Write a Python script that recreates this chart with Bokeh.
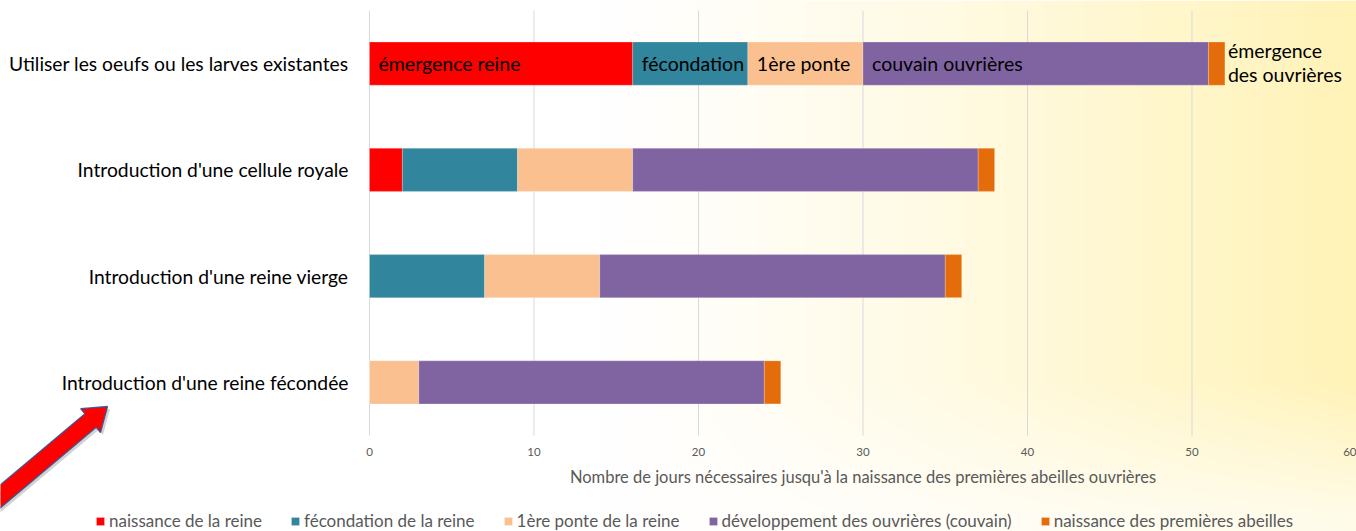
import numpy as np
from bokeh.plotting import figure
from bokeh.models import (Range1d, Legend, LegendItem, PolyAnnotation,
                          ColumnDataSource, FixedTicker)
from bokeh.core.properties import value
from bokeh.embed import file_html
from bokeh.resources import INLINE

# ---------------- data ----------------
categories = [
    "Utiliser les oeufs ou les larves existantes",
    "Introduction d'une cellule royale",
    "Introduction d'une reine vierge",
    "Introduction d'une reine fécondée",
]
series_names = [
    "naissance de la reine",
    "fécondation de la reine",
    "1ère ponte de la reine",
    "développement des ouvrières (couvain)",
    "naissance des premières abeilles",
]
naissance_reine = [16, 2, 0, 0]
fecondation_reine = [7, 7, 7, 0]
ponte_reine = [7, 7, 7, 3]
couvain_ouvrieres = [21, 21, 21, 21]
naissance_abeilles = [1, 1, 1, 1]
segment_labels = ["émergence reine", "fécondation", "1ère ponte", "couvain ouvrières",
                  "émergence\ndes ouvrières"]
x_ticks = [0, 10, 20, 30, 40, 50, 60]
axis_title = "Nombre de jours nécessaires jusqu'à la naissance des premières abeilles ouvrières"

colors = ["#FF0000", "#31859C", "#FAC090", "#8064A2", "#E46C0A"]
FONT = "Lato"
GREY = "#595959"

# ---------------- layout geometry (canvas pixels) ----------------
W, H = 1356, 531
PX0, PX_PER = 369.0, 987.0 / 60.0       # x=0 at canvas px 369, 16.45 px per day
PY0, PY_PER = 435.0, 425.0 / 4.0        # y=0 at canvas py 435, one row = 106.25 px

def dx(px):
    return (px - PX0) / PX_PER

def dy(py):
    return (PY0 - py) / PY_PER

n = len(categories)
ypos = [n - 0.5 - i for i in range(n)]   # first category on top

keys = ["s0", "s1", "s2", "s3", "s4"]
series = [naissance_reine, fecondation_reine, ponte_reine, couvain_ouvrieres, naissance_abeilles]
src = ColumnDataSource(dict(y=ypos, **{k: v for k, v in zip(keys, series)}))

p = figure(width=W, height=H, output_backend="svg", toolbar_location=None,
           x_range=Range1d(dx(0), dx(W)), y_range=Range1d(dy(H), dy(0)),
           min_border=0)
p.outline_line_color = None
p.background_fill_color = "white"
p.border_fill_color = "white"
p.xgrid.visible = False
p.ygrid.visible = False

# ---- decorative background gradient (white -> pale yellow on the right) ----
gw, gh = 339, 177
pxs = (np.arange(gw) + 0.5) * W / gw
pys = H - (np.arange(gh) + 0.5) * H / gh        # row 0 = bottom
tx = np.clip((pxs - 600) / (W - 600), 0, 1) ** 1.2
fy = np.where(pys < 380, 1.0, np.clip(1 - (pys - 380) / 200, 0.3, 1))
t = fy[:, None] * tx[None, :]
img = np.zeros((gh, gw), dtype=np.uint32)
v = img.view(dtype=np.uint8).reshape((gh, gw, 4))
v[:, :, 0] = 255
v[:, :, 1] = (255 - t * 12).astype(np.uint8)
v[:, :, 2] = (255 - t * 72).astype(np.uint8)
v[:, :, 3] = 255
bg = p.image_rgba(image=[img], x=dx(0), y=dy(H), dw=dx(W) - dx(0), dh=dy(0) - dy(H))
bg.level = "image"

# ---- vertical grid lines over the value range ----
p.segment(x0=x_ticks, y0=[0] * len(x_ticks), x1=x_ticks, y1=[n] * len(x_ticks),
          line_color="#D9D9D9", line_width=1)

# ---- bars ----
rs = p.hbar_stack(keys, y="y", height=0.405, color=colors, source=src,
                  line_color="white", line_alpha=0.35, line_width=0.6)

# ---- segment labels for the first row ----
vals0 = [s[0] for s in series]
starts = [float(x) for x in np.cumsum([0] + vals0[:-1])]
ends = [float(x) for x in np.cumsum(vals0)]
lab_src = ColumnDataSource(dict(x=starts[:4], y=[ypos[0]] * 4, t=segment_labels[:4]))
p.text(x="x", y="y", text="t", source=lab_src, x_offset=9, text_baseline="middle",
       text_align="left", text_font=value(FONT), text_font_size="19.5px", text_color="black")
lab2 = ColumnDataSource(dict(x=[ends[4]], y=[ypos[0]], t=[segment_labels[4]]))
p.text(x="x", y="y", text="t", source=lab2, x_offset=3, y_offset=-1, text_baseline="middle",
       text_align="left", text_font=value(FONT), text_font_size="19.5px", text_color="black",
       text_line_height=1.07)

# ---- axes pinned inside the frame ----
xa = p.xaxis[0]
xa.fixed_location = 0
xa.bounds = (0, 60)
xa.ticker = FixedTicker(ticks=x_ticks)
xa.axis_line_color = None
xa.major_tick_line_color = None
xa.minor_tick_line_color = None
xa.major_label_text_font = FONT
xa.major_label_text_font_size = "11.5px"
xa.major_label_text_color = GREY
xa.major_label_standoff = 6
xa.axis_label = axis_title
xa.axis_label_text_font = FONT
xa.axis_label_text_font_style = "normal"
xa.axis_label_text_font_size = "16.5px"
xa.axis_label_text_color = GREY
xa.axis_label_standoff = 8

ya = p.yaxis[0]
ya.fixed_location = 0
ya.bounds = (0, n)
ya.ticker = FixedTicker(ticks=ypos)
ya.major_label_overrides = {float(yv): c for yv, c in zip(ypos, categories)}
ya.axis_line_color = None
ya.major_tick_line_color = None
ya.minor_tick_line_color = None
ya.major_label_text_font = FONT
ya.major_label_text_font_size = "19.3px"
ya.major_label_text_color = "black"
ya.major_label_standoff = 15

# ---- legend along the bottom ----
items = [LegendItem(label=nm, renderers=[r]) for nm, r in zip(series_names, rs)]
leg = Legend(items=items, orientation="horizontal", location=(95, 0),
             glyph_width=10, glyph_height=10, label_standoff=4, spacing=28,
             label_text_font=FONT, label_text_font_size="17px", label_text_color=GREY,
             background_fill_alpha=0, border_line_color=None, padding=2, margin=0,
             label_height=18)
p.add_layout(leg, "center")

# ---- red arrow pointing at the last category (decorative shape) ----
d = np.array([0.77, -0.64])
d = d / np.linalg.norm(d)
nv = np.array([-d[1], d[0]])
tip = np.array([107.0, 406.0])
head_len, head_half, shaft_half = 22.0, 15.5, 8.8
base = tip - head_len * d
start = np.array([0.0, 496.0]) - 40 * d
pts = [start + shaft_half * nv, base + shaft_half * nv, base + head_half * nv, tip,
       base - head_half * nv, base - shaft_half * nv, start - shaft_half * nv]

def poly(offset, **kw):
    return PolyAnnotation(xs=[dx(q[0] + offset[0]) for q in pts],
                          ys=[dy(q[1] + offset[1]) for q in pts], **kw)

p.add_layout(poly((2.5, 2.5), fill_color="#7F7F7F", fill_alpha=0.35, line_color=None))
p.add_layout(poly((0, 0), fill_color="#FF0000", fill_alpha=1.0,
                  line_color="#2F5597", line_width=1.3, line_alpha=0.9))

open("out.html", "w").write(file_html(p, INLINE))
